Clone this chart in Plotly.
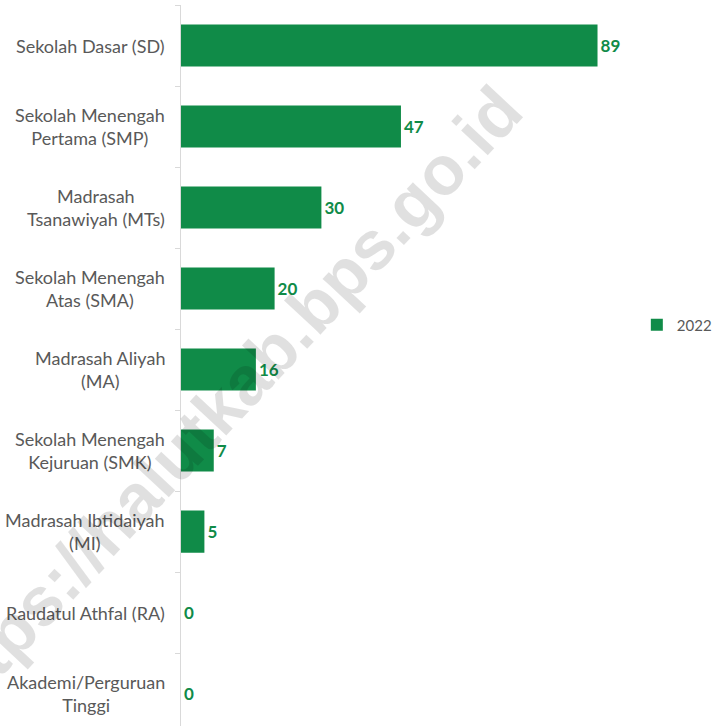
import plotly.graph_objects as go

categories = [
    "Sekolah Dasar (SD)",
    "Sekolah Menengah<br>Pertama (SMP)",
    "Madrasah<br>Tsanawiyah (MTs)",
    "Sekolah Menengah<br>Atas (SMA)",
    "Madrasah Aliyah<br>(MA)",
    "Sekolah Menengah<br>Kejuruan (SMK)",
    "Madrasah Ibtidaiyah<br>(MI)",
    "Raudatul Athfal (RA)",
    "Akademi/Perguruan<br>Tinggi",
]
values_2022 = [89, 47, 30, 20, 16, 7, 5, 0, 0]
series_name = "2022"

GREEN = "#108B48"
GRAY = "#595959"
FONT = "Lato, sans-serif"

fig = go.Figure()
fig.add_trace(go.Bar(
    y=categories,
    x=values_2022,
    orientation="h",
    name=series_name,
    marker=dict(color=GREEN, line=dict(width=0)),
    width=0.52,
    text=[str(v) for v in values_2022],
    textposition="outside",
    textfont=dict(color=GREEN, size=17, family=FONT, weight="bold"),
    cliponaxis=False,
    showlegend=True,
))

annotations = []
for c in categories:
    annotations.append(dict(
        x=0, xref="x", y=c, yref="y",
        text=c, showarrow=False,
        xanchor="right", yanchor="middle", align="center",
        xshift=-14,
        font=dict(size=18, color=GRAY, family=FONT),
    ))

# watermark
annotations.append(dict(
    x=(222 - 181) / 468, y=1 - (405 - 5) / 721, xref="paper", yref="paper",
    text="https://halutkab.bps.go.id", showarrow=False,
    textangle=-47, xanchor="center", yanchor="middle",
    font=dict(size=69, color="rgba(0,0,0,0.12)", family="Liberation Sans, Arial, sans-serif", weight="bold"),
))

fig.update_layout(
    width=713, height=726,
    margin=dict(l=181, r=64, t=5, b=0, autoexpand=False),
    plot_bgcolor="white", paper_bgcolor="white",
    xaxis=dict(range=[0, 100], showgrid=False, zeroline=False,
               showticklabels=False, showline=False, ticks=""),
    yaxis=dict(categoryorder="array", categoryarray=categories,
               range=[8.4, -0.5], showgrid=False, zeroline=False,
               showticklabels=False, showline=True, linecolor="#D9D9D9",
               linewidth=1, ticks="outside", tickson="boundaries",
               ticklen=5, tickcolor="#D9D9D9"),
    legend=dict(x=0.974, y=1 - (325 - 5) / 721, xanchor="left", yanchor="middle",
                font=dict(size=15, color=GRAY, family=FONT),
                bgcolor="rgba(0,0,0,0)"),
    annotations=annotations,
    bargap=0.48,
)

fig.write_html("out.html", config={"displayModeBar": False},
               post_script="document.body.style.margin='0';document.body.style.padding='0';")
